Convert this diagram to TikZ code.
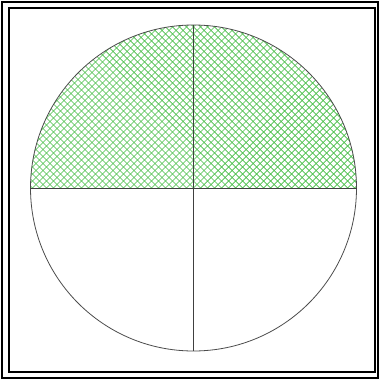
\documentclass[tikz,border=0pt]{standalone}
\usetikzlibrary{calc}
\definecolor{hatchgreen}{RGB}{70,190,70}
\tikzset{
  frameline/.style={draw=black,line width=2pt},
  hatchline/.style={draw=hatchgreen,line width=0.7pt},
  divider/.style={draw=black!75,line width=0.8pt},
  rim/.style={draw=black!70,line width=0.8pt}
}
\begin{document}
\begin{tikzpicture}[x=1pt,y=-1pt]
\useasboundingbox (0,0) rectangle (379,379);
\fill[white] (0,0) rectangle (379,379);
% frame
\draw[frameline] (2,2) rectangle (377.5,377.5);
\draw[frameline] (8.5,8) rectangle (374.5,372);
% circle
\coordinate (c) at (193.5,188);
\begin{scope}
  \clip (c) ++(-163,0) arc[start angle=180,end angle=360,radius=163] -- cycle;
  \foreach \k in {-60,...,60} {
    \draw[hatchline] ($(c)+(\k*7-200,-200)$) -- ++(400,400);
    \draw[hatchline] ($(c)+(\k*7-200,200)$) -- ++(400,-400);
  }
\end{scope}
\draw[rim] (c) circle[radius=163];
\coordinate (l) at ($(c)+(-163,0)$);
\coordinate (r) at ($(c)+(163,0)$);
\coordinate (t) at ($(c)+(0,-163)$);
\coordinate (b) at ($(c)+(0,163)$);
\draw[divider] (l) -- (r);
\draw[divider] (t) -- (b);
\end{tikzpicture}
\end{document}
